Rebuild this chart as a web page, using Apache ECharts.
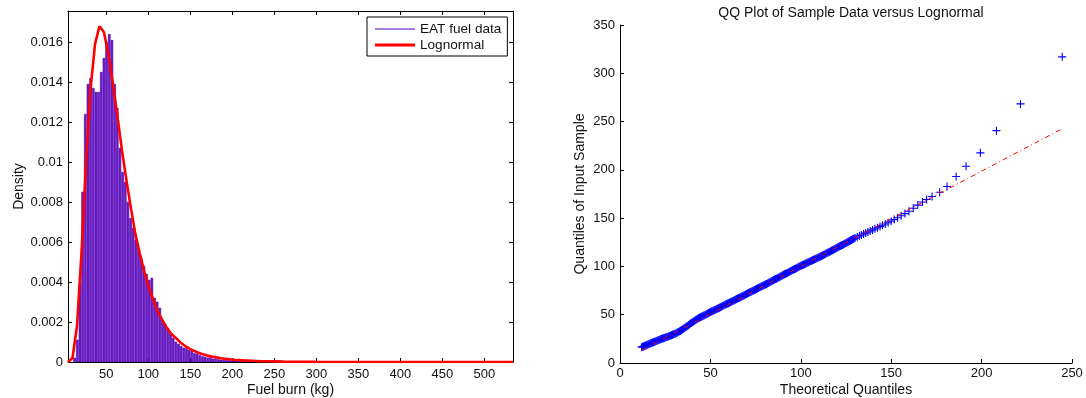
<!DOCTYPE html>
<html>
<head>
<meta charset="utf-8">
<script src="https://cdn.jsdelivr.net/npm/echarts@6/dist/echarts.min.js"></script>
<style>
  html, body { margin: 0; padding: 0; background: #fff; }
  #chart { width: 1086px; height: 398px; }
</style>
</head>
<body>
<div id="chart"></div>
<script>
// Histogram of fuel burn: lower bin edges (kg) and density per bin
const binWidth = 3.17;
const fuelBinEdges = [
  10.8, 14.0, 17.2, 20.3, 23.5, 26.7, 29.8, 33.0, 36.2, 39.3,
  42.5, 45.7, 48.8, 52.0, 55.2, 58.4, 61.5, 64.7, 67.9, 71.0,
  74.2, 77.4, 80.5, 83.7, 86.9, 90.0, 93.2, 96.4, 99.5, 102.7,
  105.9, 109.0, 112.2, 115.4, 118.5, 121.7, 124.9, 128.0, 131.2, 134.4,
  137.5, 140.7, 143.9, 147.0, 150.2, 153.4, 156.5, 159.7, 162.9, 166.0,
  169.2, 172.4, 175.5, 178.7, 181.9, 185.0, 188.2, 191.4, 194.5, 197.7,
  200.9, 204.0, 207.2, 210.4, 213.5, 216.7, 223.0, 229.4, 238.9, 251.6
];
const fuelDensity = [
  0.0002, 0.0011, 0.0039, 0.0085, 0.0124, 0.0139, 0.0142, 0.0137, 0.0135, 0.0135,
  0.0145, 0.0152, 0.0160, 0.0164, 0.0161, 0.0139, 0.0127, 0.0107, 0.0095, 0.0090,
  0.0080, 0.0072, 0.0067, 0.0061, 0.0057, 0.0052, 0.0048, 0.0044, 0.0041, 0.0042,
  0.0032, 0.0030, 0.0027, 0.0021, 0.0019, 0.0017, 0.0014, 0.0012, 0.0010, 0.0009,
  0.00078, 0.0007, 0.00068, 0.00058, 0.00055, 0.00043, 0.0004, 0.00033, 0.00027, 0.00025,
  0.0002, 0.00022, 0.00015, 0.00016, 0.00012, 0.0001, 0.00011, 0.00008, 0.00007, 0.00006,
  0.00005, 0.00005, 0.00004, 0.00003, 0.00003, 0.00002, 0.00002, 0.00001, 0.00001, 0.00001
];

// Fitted lognormal density curve
const fitX = [
  4.5, 9.85, 15.2, 20.5, 25.9, 31.2, 36.6, 41.9, 47.3, 52.6,
  58.0, 63.3, 68.7, 74.0, 79.4, 84.7, 90.1, 95.4, 100.8, 106.1,
  111.5, 116.8, 122.2, 127.5, 132.9, 138.2, 143.6, 148.9, 154.3, 159.6,
  165.0, 170.3, 175.7, 181.0, 186.3, 191.7, 197.0, 202.4, 207.7, 213.1,
  218.4, 223.8, 229.1, 234.5, 239.8, 245.2, 250.5, 261.2, 277.3, 298.7,
  325.4, 357.5, 394.9, 437.7, 485.8, 534.0
];
const fitDensity = [
  0, 0.0002, 0.0018, 0.0054, 0.0099, 0.0136, 0.0159, 0.0168, 0.0165, 0.0154,
  0.0139, 0.0123, 0.0106, 0.0091, 0.0077, 0.0064, 0.0054, 0.0045, 0.0037, 0.0031,
  0.0025, 0.0021, 0.0017, 0.0014, 0.0012, 0.00098, 0.00081, 0.00067, 0.00056, 0.00046,
  0.00039, 0.00032, 0.00027, 0.00023, 0.00019, 0.00016, 0.00013, 0.00011, 0.0001, 0.00008,
  0.00007, 0.00006, 0.00005, 0.00004, 0.00004, 0.00003, 0.00003, 0.00002, 0.00001, 0.000005,
  0.000002, 0.000001, 0, 0, 0, 0
];

// QQ plot: theoretical lognormal quantiles vs sample quantiles
const qqTheoretical = [
  12, 12.5, 13, 13.5, 14, 14.5, 15, 15.5, 16, 16.5, 17, 17.5, 18, 18.5, 19, 19.5, 20, 20.5,
  21, 21.5, 22, 22.5, 23, 23.5, 24, 24.5, 25, 25.5, 26, 26.5, 27, 27.5, 28, 28.5, 29, 29.5, 30, 30.5,
  31, 31.5, 32, 32.5, 33, 33.5, 34, 34.5, 35, 35.5, 36, 36.5, 37, 37.5, 38, 38.5, 39, 39.5, 40, 40.5,
  41, 41.5, 42, 42.5, 43, 43.5, 44, 44.5, 45, 45.5, 46, 46.5, 47, 47.5, 48, 48.5, 49, 49.5, 50, 50.5,
  51, 51.5, 52, 52.5, 53, 53.5, 54, 54.5, 55, 55.5, 56, 56.5, 57, 57.5, 58, 58.5, 59, 59.5, 60, 60.5,
  61, 61.5, 62, 62.5, 63, 63.5, 64, 64.5, 65, 65.5, 66, 66.5, 67, 67.5, 68, 68.5, 69, 69.5, 70, 70.5,
  71, 71.5, 72, 72.5, 73, 73.5, 74, 74.5, 75, 75.5, 76, 76.5, 77, 77.5, 78, 78.5, 79, 79.5, 80, 80.5,
  81, 81.5, 82, 82.5, 83, 83.5, 84, 84.5, 85, 85.5, 86, 86.5, 87, 87.5, 88, 88.5, 89, 89.5, 90, 90.5,
  91, 91.5, 92, 92.5, 93, 93.5, 94, 94.5, 95, 95.5, 96, 96.5, 97, 97.5, 98, 98.5, 99, 99.5, 100, 100.5,
  101, 101.5, 102, 102.5, 103, 103.5, 104, 104.5, 105, 105.5, 106, 106.5, 107, 107.5, 108, 108.5, 109, 109.5, 110, 110.5,
  111, 111.5, 112, 112.5, 113, 113.5, 114, 114.5, 115, 115.5, 116, 116.5, 117, 117.5, 118, 118.5, 119, 119.5, 120, 120.5,
  121, 121.5, 122, 122.5, 123, 123.5, 124, 124.5, 125, 125.5, 126, 126.5, 127, 127.5, 128, 128.5, 129, 129.5, 130,
  131.2, 132.4, 133.5, 134.7, 135.9, 137.1, 138.4, 139.7, 141.0, 142.4,
  143.8, 145.2, 146.7, 148.3, 150.0, 151.7, 153.5, 155.5, 157.6, 159.8,
  162.2, 164.7, 167.3, 169.6, 172.6, 176.8, 180.9, 185.9, 191.4, 199.3,
  208.2, 221.5, 244.6
];
const qqSample = [
  16.4, 16.8, 17.2, 17.6, 18.0, 18.4, 18.8, 19.2, 19.6, 20.0, 20.4, 20.7, 21.1, 21.5, 21.9, 22.3, 22.7, 23.1,
  23.5, 23.9, 24.3, 24.6, 25.0, 25.3, 25.7, 26.0, 26.3, 26.7, 27.0, 27.3, 27.7, 28.0, 28.4, 28.8, 29.2, 29.6, 30.0, 30.4,
  30.9, 31.3, 31.8, 32.3, 32.9, 33.5, 34.1, 34.7, 35.4, 36.0, 36.7, 37.4, 38.1, 38.7, 39.4, 40.1, 40.8, 41.4, 42.1, 42.7,
  43.4, 44.0, 44.7, 45.3, 45.9, 46.5, 47.0, 47.4, 47.9, 48.4, 48.9, 49.3, 49.8, 50.3, 50.8, 51.2, 51.7, 52.2, 52.7, 53.2,
  53.6, 54.1, 54.5, 55.0, 55.4, 55.9, 56.4, 56.8, 57.3, 57.8, 58.3, 58.7, 59.2, 59.7, 60.2, 60.6, 61.0, 61.5, 62.0, 62.4,
  62.9, 63.4, 63.9, 64.3, 64.8, 65.3, 65.8, 66.2, 66.7, 67.1, 67.6, 68.1, 68.6, 69.0, 69.5, 70.0, 70.5, 71.0, 71.5, 71.9,
  72.4, 72.9, 73.4, 73.8, 74.3, 74.7, 75.2, 75.7, 76.2, 76.7, 77.2, 77.6, 78.1, 78.6, 79.1, 79.6, 80.1, 80.5, 80.9, 81.4,
  81.9, 82.4, 82.9, 83.4, 83.9, 84.4, 84.9, 85.4, 85.9, 86.4, 86.9, 87.3, 87.8, 88.3, 88.8, 89.3, 89.8, 90.3, 90.8, 91.3,
  91.8, 92.3, 92.8, 93.3, 93.8, 94.2, 94.7, 95.2, 95.7, 96.2, 96.7, 97.2, 97.7, 98.2, 98.7, 99.2, 99.7, 100.1, 100.6, 101.0,
  101.4, 101.9, 102.3, 102.8, 103.2, 103.7, 104.1, 104.6, 105.0, 105.5, 105.9, 106.4, 106.8, 107.2, 107.6, 108.1, 108.5, 109.0, 109.5, 109.9,
  110.4, 110.9, 111.4, 111.9, 112.4, 112.8, 113.3, 113.8, 114.3, 114.8, 115.3, 115.8, 116.3, 116.8, 117.3, 117.8, 118.3, 118.8, 119.3, 119.8,
  120.3, 120.8, 121.3, 121.8, 122.3, 122.8, 123.3, 123.8, 124.3, 124.9, 125.4, 125.9, 126.4, 126.8, 127.3, 127.9, 128.4, 128.9, 129.4,
  130.5, 131.6, 132.6, 133.6, 134.5, 135.6, 136.7, 137.8, 139.0, 140.1,
  141.3, 142.6, 143.9, 145.3, 146.9, 148.6, 150.4, 152.5, 154.7, 157.1,
  160.3, 163.5, 166.7, 169.3, 172.4, 176.8, 182.7, 193.1, 203.7, 217.6,
  240.6, 268.3, 317.0
];
// Reference line through the quartiles, extended over the data range
const refLineX = [12, 244.6];
const refLineY = [13.4, 242.6];

// Tick values
const fuelTicks = [50, 100, 150, 200, 250, 300, 350, 400, 450, 500];
const densityTicks = [0, 0.002, 0.004, 0.006, 0.008, 0.01, 0.012, 0.014, 0.016];

const FONT = 'Liberation Sans, Arial, Helvetica, sans-serif';
const INK = '#111';

const histData = fuelBinEdges.map((e, i) => [e, fuelDensity[i]]);
const fitData = fitX.map((x, i) => [x, fitDensity[i]]);
const qqData = qqTheoretical.map((x, i) => [x, qqSample[i]]);
const refData = refLineX.map((x, i) => [x, refLineY[i]]);

const axisLine = { show: true, onZero: false, lineStyle: { color: '#000', width: 1 } };
const tickStyle = { color: INK, fontFamily: FONT, fontSize: 13 };
const nameStyle = { color: INK, fontFamily: FONT, fontSize: 14 };

const chart = echarts.init(document.getElementById('chart'), null, { renderer: 'canvas' });

chart.setOption({
  animation: false,
  backgroundColor: '#fff',
  textStyle: { fontFamily: FONT },
  title: {
    text: 'QQ Plot of Sample Data versus Lognormal',
    left: 846, top: 1, textAlign: 'center',
    textStyle: { color: INK, fontFamily: FONT, fontSize: 14, fontWeight: 'normal' }
  },
  legend: {
    left: 367, top: 17,
    orient: 'vertical',
    backgroundColor: '#fff',
    borderColor: '#000', borderWidth: 1,
    padding: [4, 6, 3, 8],
    itemWidth: 40, itemHeight: 16, itemGap: 0,
    textStyle: { color: INK, fontFamily: FONT, fontSize: 13.6 },
    data: [
      { name: 'EAT fuel data', icon: 'path://M0,0h0.01v0.01h-0.01zM0,7.35h40v1.3h-40zM40,15.99h-0.01v0.01h0.01z', itemStyle: { color: '#8454d4' } },
      { name: 'Lognormal', icon: 'path://M0,0h0.01v0.01h-0.01zM0,6.5h40v3h-40zM40,15.99h-0.01v0.01h0.01z', itemStyle: { color: '#ff0000' } }
    ]
  },
  grid: [
    { left: 68, top: 11, width: 445, height: 351, containLabel: false, outerBoundsMode: 'none' },
    { left: 620, top: 25, width: 452, height: 338, containLabel: false, outerBoundsMode: 'none' }
  ],
  xAxis: [
    {
      type: 'value', gridIndex: 0, position: 'bottom', min: 4.5, max: 534,
      name: 'Fuel burn (kg)', nameLocation: 'middle', nameGap: 21, nameMoveOverlap: false,
      nameTextStyle: nameStyle,
      axisLine: axisLine,
      axisTick: { show: true, inside: true, length: 4, customValues: fuelTicks, lineStyle: { color: '#000' } },
      axisLabel: { show: true, margin: 6, customValues: fuelTicks, ...tickStyle },
      splitLine: { show: false }
    },
    {
      type: 'value', gridIndex: 0, position: 'top', min: 4.5, max: 534,
      axisLine: axisLine,
      axisTick: { show: true, inside: true, length: 4, customValues: fuelTicks, lineStyle: { color: '#000' } },
      axisLabel: { show: false },
      splitLine: { show: false }
    },
    {
      type: 'value', gridIndex: 1, min: 0, max: 250, interval: 50,
      name: 'Theoretical Quantiles', nameLocation: 'middle', nameGap: 20, nameMoveOverlap: false,
      nameTextStyle: nameStyle,
      axisLine: axisLine,
      axisTick: { show: true, inside: true, length: 4, lineStyle: { color: '#000' } },
      axisLabel: { margin: 4, ...tickStyle },
      splitLine: { show: false }
    }
  ],
  yAxis: [
    {
      type: 'value', gridIndex: 0, position: 'left', min: 0, max: 0.017567,
      name: 'Density', nameLocation: 'middle', nameGap: 42, nameMoveOverlap: false,
      nameTextStyle: nameStyle,
      axisLine: axisLine,
      axisTick: { show: true, inside: true, length: 4, customValues: densityTicks, lineStyle: { color: '#000' } },
      axisLabel: { margin: 5, customValues: densityTicks, ...tickStyle, formatter: v => String(+v.toFixed(3)) },
      splitLine: { show: false }
    },
    {
      type: 'value', gridIndex: 0, position: 'right', min: 0, max: 0.017567,
      axisLine: axisLine,
      axisTick: { show: true, inside: true, length: 4, customValues: densityTicks, lineStyle: { color: '#000' } },
      axisLabel: { show: false },
      splitLine: { show: false }
    },
    {
      type: 'value', gridIndex: 1, min: 0, max: 350, interval: 50,
      name: 'Quantiles of Input Sample', nameLocation: 'middle', nameGap: 33, nameMoveOverlap: false,
      nameTextStyle: nameStyle,
      axisLine: axisLine,
      axisTick: { show: true, inside: true, length: 4, lineStyle: { color: '#000' } },
      axisLabel: { margin: 5, ...tickStyle },
      splitLine: { show: false }
    }
  ],
  series: [
    {
      name: 'EAT fuel data',
      type: 'custom',
      xAxisIndex: 0, yAxisIndex: 0,
      data: histData,
      encode: { x: 0, y: 1 },
      clip: true,
      renderItem: function (params, api) {
        const left = api.coord([api.value(0), 0]);
        const right = api.coord([api.value(0) + binWidth, api.value(1)]);
        return {
          type: 'rect',
          shape: { x: left[0] + 0.35, y: right[1], width: right[0] - left[0] - 0.7, height: left[1] - right[1] },
          style: { fill: '#6a1fcc', stroke: '#5200aa', lineWidth: 0.6 }
        };
      }
    },
    {
      name: 'Lognormal',
      type: 'line',
      xAxisIndex: 0, yAxisIndex: 0,
      data: fitData,
      showSymbol: false, symbol: 'none',
      lineStyle: { color: '#ff0000', width: 2.6 },
      z: 5
    },
    {
      name: 'QQ sample',
      type: 'scatter',
      xAxisIndex: 2, yAxisIndex: 2,
      data: qqData,
      symbol: 'path://M5,0V10M0,5H10',
      symbolSize: 8,
      itemStyle: { color: 'rgba(0,0,0,0)', borderColor: '#0000ff', borderWidth: 1.1, opacity: 1 }
    },
    {
      name: 'QQ reference',
      type: 'line',
      xAxisIndex: 2, yAxisIndex: 2,
      data: refData,
      showSymbol: false, symbol: 'none',
      lineStyle: { color: '#ff0000', width: 1, type: [5, 3, 1, 3] },
      z: 6
    }
  ]
});
</script>
</body>
</html>
